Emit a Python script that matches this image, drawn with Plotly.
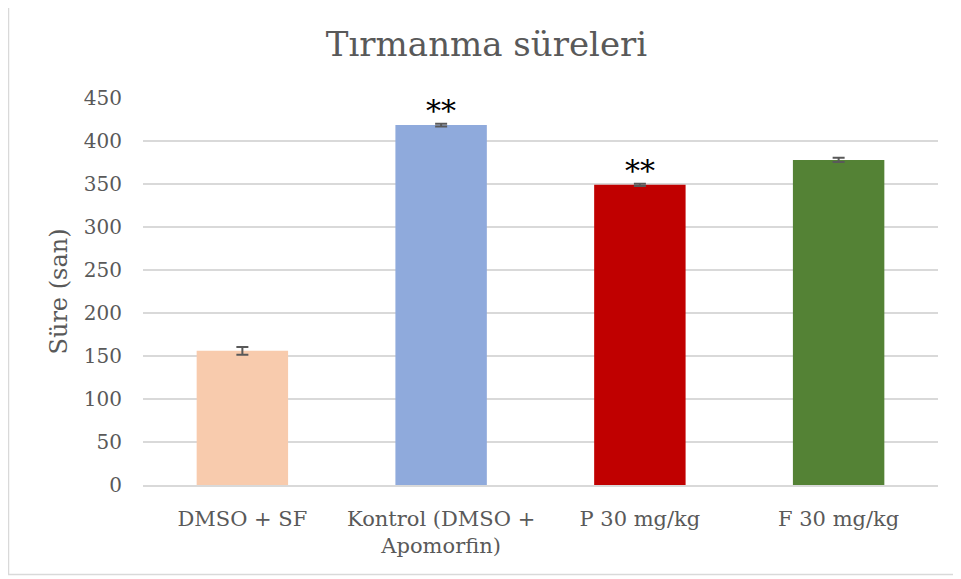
import plotly.graph_objects as go

categories = ["DMSO + SF", "Kontrol (DMSO +<br>Apomorfin)", "P 30 mg/kg", "F 30 mg/kg"]
values = [156, 418.5, 349, 378]
errors = [4.5, 1.5, 1.2, 2.5]
annotations_text = ["", "**", "**", ""]
colors = ["#F8CBAD", "#8FAADC", "#C00000", "#548235"]
y_ticks = [0, 50, 100, 150, 200, 250, 300, 350, 400, 450]

font_family = "DejaVu Serif"
text_color = "#595959"

# plot area in figure pixels
L, R, T, B = 135, 930, 90, 477
W, H = 961, 579

fig = go.Figure()
fig.add_trace(go.Bar(
    x=categories, y=values,
    marker=dict(color=colors, line=dict(width=0)),
    error_y=dict(type="data", array=errors, visible=True, color="#595959", thickness=2, width=6),
    width=0.46,
    hoverinfo="skip",
))

for c, v, e, t in zip(categories, values, errors, annotations_text):
    if t:
        fig.add_annotation(x=c, y=v + e, text=t, showarrow=False, yanchor="bottom", yshift=-6,
                           font=dict(family=font_family, size=30, color="black"))

fig.add_annotation(text="Süre (san)", xref="paper", yref="paper",
                   x=(50 - L) / (R - L), y=0.5, xanchor="center", yanchor="middle",
                   textangle=-90, showarrow=False,
                   font=dict(family=font_family, size=24, color=text_color))

fig.add_shape(type="rect", xref="paper", yref="paper",
              x0=(0.5 - L) / (R - L), x1=1.1, y0=(B - 566.5) / (B - T), y1=1.4,
              line=dict(color="#D9D9D9", width=1.5), fillcolor="rgba(0,0,0,0)", layer="below")

fig.update_layout(
    width=W, height=H,
    margin=dict(l=L, r=W - R, t=T, b=H - B),
    plot_bgcolor="white", paper_bgcolor="white",
    showlegend=False,
    title=dict(text="Tırmanma süreleri", x=478.5 / W, xanchor="center", y=1 - 36 / H, yanchor="middle",
               font=dict(family=font_family, size=34, color=text_color)),
    xaxis=dict(showline=True, linecolor="#D9D9D9", linewidth=1.5, ticks="", ticklabelstandoff=14,
               tickfont=dict(family=font_family, size=21, color=text_color), fixedrange=True),
    yaxis=dict(range=[0, 450], tickvals=y_ticks, showgrid=True, gridcolor="#D9D9D9", gridwidth=1.5,
               zeroline=False, ticks="", ticklen=0, ticklabelstandoff=20,
               tickfont=dict(family=font_family, size=20, color=text_color), fixedrange=True),
)

fig.write_html("out.html")
